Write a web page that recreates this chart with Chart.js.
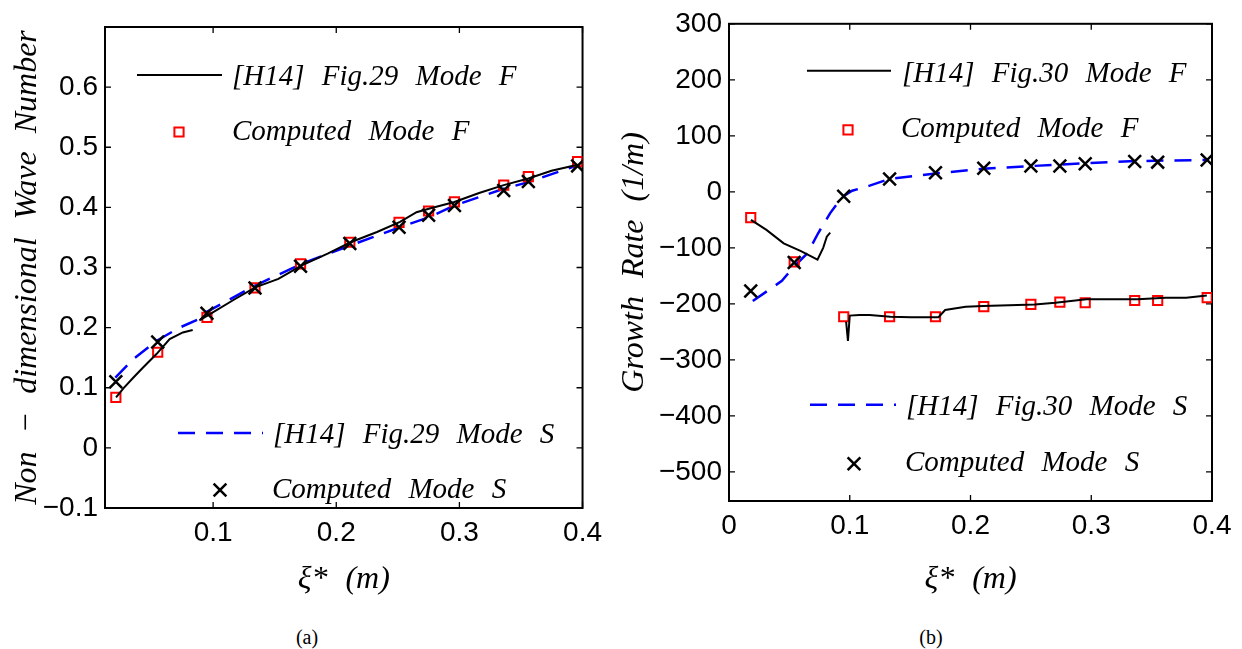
<!DOCTYPE html>
<html>
<head>
<meta charset="utf-8">
<script src="https://cdn.jsdelivr.net/npm/chart.js@4.4.1/dist/chart.umd.min.js"></script>
<style>
  html, body { margin: 0; padding: 0; background: #ffffff; }
  body { width: 1242px; height: 649px; position: relative; overflow: hidden; }
  canvas { position: absolute; top: 0; }
  #waveChart { left: 0; }
  #growthChart { left: 610px; }
  .caption {
    position: absolute; top: 637px; line-height: 1;
    transform: translate(-50%, -50%);
    font: 20px "Liberation Serif", serif; color: #000;
  }
</style>
</head>
<body>
<canvas id="waveChart" width="610" height="600"></canvas>
<canvas id="growthChart" width="632" height="600"></canvas>
<div class="caption" style="left:307px">(a)</div>
<div class="caption" style="left:931px">(b)</div>
<script>
/* Fig. (a) wave number and (b) growth rate vs xi* - [H14] curves and computed modes */

// ---- data, panel (a) ----
const xiA = [0.021, 0.055, 0.095, 0.134, 0.171, 0.211, 0.251, 0.275, 0.296, 0.336, 0.356, 0.396];
const computedFA = [0.084, 0.159, 0.217, 0.266, 0.306, 0.342, 0.375, 0.394, 0.409, 0.437, 0.451, 0.476];
const computedSA = [0.110, 0.176, 0.224, 0.266, 0.302, 0.340, 0.367, 0.387, 0.403, 0.428, 0.443, 0.469];

const fig29F1X = [0.0212, 0.0273, 0.0353, 0.0433, 0.054, 0.0647, 0.0754, 0.0834];
const fig29F1Y = [0.084, 0.0995, 0.117, 0.134, 0.156, 0.181, 0.192, 0.196];
const fig29F2X = [0.0888, 0.0954, 0.1182, 0.1342, 0.153, 0.1716, 0.193, 0.2117, 0.2331, 0.2518,
                  0.2652, 0.2759, 0.2959, 0.316, 0.336, 0.356, 0.3748, 0.3961];
const fig29F2Y = [0.212, 0.220, 0.248, 0.267, 0.281, 0.303, 0.323, 0.342, 0.359, 0.376,
                  0.392, 0.398, 0.409, 0.424, 0.437, 0.448, 0.461, 0.471];

const fig29SX = [0.0206, 0.0353, 0.054, 0.0727, 0.0888, 0.0941, 0.1342, 0.1716, 0.2117, 0.2518,
                 0.2759, 0.2959, 0.336, 0.356, 0.3961];
const fig29SY = [0.117, 0.148, 0.178, 0.200, 0.2145, 0.2255, 0.270, 0.306, 0.337, 0.367,
                 0.384, 0.403, 0.431, 0.442, 0.470];

const xTicksA = [0.1, 0.2, 0.3, 0.4];
const yTicksA = [-0.1, 0, 0.1, 0.2, 0.3, 0.4, 0.5, 0.6];

// ---- data, panel (b) ----
const xiB = [0.018, 0.054, 0.095, 0.133, 0.171, 0.211, 0.250, 0.274, 0.295, 0.336, 0.355, 0.396];
const computedFB = [-46, -125, -223, -223, -223, -205, -201, -197, -198, -194, -194, -189];
const computedSB = [-177, -126, -8, 23, 34, 42, 46, 46, 50, 54, 53, 57];

const fig30F1X = [0.0182, 0.031, 0.0453, 0.0596, 0.0733, 0.078, 0.081, 0.0838];
const fig30F1Y = [-50, -68, -92, -106, -121, -100, -80, -73];
const fig30F2X = [0.097, 0.0985, 0.100, 0.108, 0.1165, 0.1336, 0.1507, 0.165, 0.1735, 0.179,
                  0.196, 0.2105, 0.2248, 0.2532, 0.2703, 0.296, 0.3387, 0.3615, 0.3786, 0.3957];
const fig30F2Y = [-232, -266, -221, -220, -220, -223, -224, -224, -224, -211,
                  -205, -204, -203, -201, -198, -192, -192, -189, -189, -185];

const fig30SX = [0.0197, 0.0438, 0.054, 0.0652, 0.0738, 0.0838, 0.0938, 0.102, 0.1165, 0.133,
                 0.1675, 0.2103, 0.25, 0.2957, 0.338, 0.3974];
const fig30SY = [-195, -159, -133, -109, -74, -38, -9, 2, 11, 23, 32, 41, 46, 51, 55, 57];

const xTicksB = [0, 0.1, 0.2, 0.3, 0.4];
const yTicksB = [-500, -400, -300, -200, -100, 0, 100, 200, 300];

// ---- helpers ----
Chart.defaults.font.family = "'Liberation Sans', Arial, sans-serif";
Chart.defaults.font.size = 28;
Chart.defaults.color = '#000000';

const TITLE_FONT = { family: "'Liberation Serif', serif", style: 'italic', size: 32 };
const LEGEND_FONT = "italic 29px 'Liberation Serif', serif";
const TICK_LEN = 6;

function pts(xs, ys) {
    return xs.map((x, i) => ({ x: x, y: ys[i] }));
}
// two digitised pieces of one curve, with a break between them
function withGap(a, b) {
    return a.concat([{ x: a[a.length - 1].x, y: null }], b);
}
function fmt(v) {
    return (v < 0 ? '\u2212' : '') + Math.abs(v);
}

function markerPath(ctx, style, r, x, y) {
    ctx.beginPath();
    if (style === 'rect') {
        const s = Math.SQRT1_2 * r;
        ctx.rect(x - s, y - s, 2 * s, 2 * s);
    } else {
        const d = Math.SQRT1_2 * r;
        ctx.moveTo(x - d, y - d); ctx.lineTo(x + d, y + d);
        ctx.moveTo(x - d, y + d); ctx.lineTo(x + d, y - d);
    }
    ctx.stroke();
}

// box, inward ticks on all four sides and the in-plot legend
const matlabAxes = {
    id: 'matlabAxes',
    beforeDraw(chart) {
        chart.ctx.wordSpacing = '10px';
    },
    beforeDatasetsDraw(chart) {
        const { ctx, chartArea: a, scales } = chart;
        ctx.save();
        ctx.strokeStyle = '#000000';
        ctx.lineWidth = 1.3;
        ctx.beginPath();
        scales.x.ticks.forEach(t => {
            const px = scales.x.getPixelForValue(t.value);
            ctx.moveTo(px, a.bottom); ctx.lineTo(px, a.bottom - TICK_LEN);
            ctx.moveTo(px, a.top); ctx.lineTo(px, a.top + TICK_LEN);
        });
        scales.y.ticks.forEach(t => {
            const py = scales.y.getPixelForValue(t.value);
            ctx.moveTo(a.left, py); ctx.lineTo(a.left + TICK_LEN, py);
            ctx.moveTo(a.right, py); ctx.lineTo(a.right - TICK_LEN, py);
        });
        ctx.stroke();
        ctx.lineWidth = 2;
        ctx.strokeRect(a.left, a.top, a.right - a.left, a.bottom - a.top);
        ctx.restore();
    },
    afterDatasetsDraw(chart, args, opts) {
        const { ctx, chartArea: a } = chart;
        ctx.save();
        ctx.font = LEGEND_FONT;
        ctx.textBaseline = 'middle';
        ctx.fillStyle = '#000000';
        (opts.entries || []).forEach(e => {
            const ds = chart.data.datasets[e.ds];
            ctx.strokeStyle = ds.borderColor;
            if (ds.showLine) {
                ctx.lineWidth = ds.borderWidth;
                ctx.setLineDash(ds.borderDash || []);
                ctx.beginPath();
                ctx.moveTo(a.left + e.x0, a.top + e.y);
                ctx.lineTo(a.left + e.x1, a.top + e.y);
                ctx.stroke();
                ctx.setLineDash([]);
            } else {
                ctx.lineWidth = ds.pointBorderWidth;
                markerPath(ctx, ds.pointStyle, ds.pointRadius, a.left + e.x0, a.top + e.y);
            }
            ctx.fillText(ds.label, a.left + e.tx, a.top + e.ty);
        });
        ctx.restore();
    }
};
Chart.register(matlabAxes);

function lineSet(label, data, color, width, dash, order) {
    return {
        label: label, data: data, showLine: true, spanGaps: false,
        borderColor: color, borderWidth: width, borderDash: dash,
        pointRadius: 0, order: order
    };
}
function markerSet(label, data, color, style, radius, width, order) {
    return {
        label: label, data: data, showLine: false,
        borderColor: color, pointBorderColor: color, pointBackgroundColor: 'rgba(0,0,0,0)',
        pointStyle: style, pointRadius: radius, pointBorderWidth: width, order: order
    };
}

function makePanel(id, cfg) {
    const canvas = document.getElementById(id);
    const W = canvas.width, H = canvas.height, area = cfg.area;
    return new Chart(canvas, {
        type: 'scatter',
        data: { datasets: cfg.datasets },
        options: {
            responsive: false,
            animation: false,
            devicePixelRatio: 1,
            events: [],
            layout: { padding: { left: 0, top: area.top, right: W - area.right, bottom: 0 } },
            plugins: {
                legend: { display: false },
                tooltip: { enabled: false },
                matlabAxes: { entries: cfg.legend }
            },
            scales: {
                x: {
                    type: 'linear', position: 'bottom',
                    min: cfg.xMin, max: cfg.xMax,
                    grid: { display: false, drawTicks: false },
                    border: { display: false },
                    ticks: { padding: 8, maxRotation: 0, autoSkip: false, callback: fmt },
                    afterBuildTicks: s => { s.ticks = cfg.xTicks.map(v => ({ value: v })); },
                    afterFit: s => { s.height = H - area.bottom; },
                    title: { display: true, text: 'ξ* (m)', color: '#000000', font: TITLE_FONT,
                             padding: { top: 0, bottom: 1 } }
                },
                y: {
                    type: 'linear', position: 'left',
                    min: cfg.yMin, max: cfg.yMax,
                    grid: { display: false, drawTicks: false },
                    border: { display: false },
                    ticks: { padding: 7, autoSkip: false, callback: fmt },
                    afterBuildTicks: s => { s.ticks = cfg.yTicks.map(v => ({ value: v })); },
                    afterFit: s => { s.width = area.left; },
                    title: { display: true, text: cfg.yTitle, color: '#000000', font: TITLE_FONT,
                             padding: { top: cfg.yTitlePad, bottom: 0 } }
                }
            }
        }
    });
}

function initCharts() {
    // (a) non-dimensional wave number
    makePanel('waveChart', {
        area: { left: 105, top: 27, right: 588, bottom: 508 },
        xMin: 0.0122, xMax: 0.4, xTicks: xTicksA,
        yMin: -0.1, yMax: 0.7, yTicks: yTicksA,
        yTitle: 'Non − dimensional Wave Number', yTitlePad: 8,
        datasets: [
            lineSet('[H14] Fig.29 Mode F', withGap(pts(fig29F1X, fig29F1Y), pts(fig29F2X, fig29F2Y)),
                    '#000000', 2, [], 1),
            markerSet('Computed Mode F', pts(xiA, computedFA), '#ff0000', 'rect', 6.5, 2, 2),
            lineSet('[H14] Fig.29 Mode S', pts(fig29SX, fig29SY), '#0000ff', 2.5, [17, 11], 3),
            markerSet('Computed Mode S', pts(xiA, computedSA), '#000000', 'crossRot', 9, 2.5, 0)
        ],
        legend: [
            { ds: 0, x0: 32, x1: 117, y: 48, tx: 127, ty: 50 },
            { ds: 1, x0: 74, y: 105, tx: 127, ty: 105 },
            { ds: 2, x0: 73, x1: 158, y: 406, tx: 168, ty: 408 },
            { ds: 3, x0: 115, y: 463, tx: 167, ty: 463 }
        ]
    });

    // (b) growth rate
    makePanel('growthChart', {
        area: { left: 119, top: 19, right: 602, bottom: 501 },
        xMin: 0, xMax: 0.4, xTicks: xTicksB,
        yMin: -552, yMax: 300, yTicks: yTicksB,
        yTitle: 'Growth Rate (1/m)', yTitlePad: 5,
        datasets: [
            lineSet('[H14] Fig.30 Mode F', withGap(pts(fig30F1X, fig30F1Y), pts(fig30F2X, fig30F2Y)),
                    '#000000', 2, [], 1),
            markerSet('Computed Mode F', pts(xiB, computedFB), '#ff0000', 'rect', 6.5, 2, 2),
            lineSet('[H14] Fig.30 Mode S', pts(fig30SX, fig30SY), '#0000ff', 2.5, [17, 11], 3),
            markerSet('Computed Mode S', pts(xiB, computedSB), '#000000', 'crossRot', 9, 2.5, 0)
        ],
        legend: [
            { ds: 0, x0: 78, x1: 162, y: 47, tx: 173, ty: 51 },
            { ds: 1, x0: 119, y: 106, tx: 172, ty: 106 },
            { ds: 2, x0: 81, x1: 167, y: 381, tx: 177, ty: 384 },
            { ds: 3, x0: 125, y: 440, tx: 176, ty: 440 }
        ]
    });
}

if (document.readyState === 'loading') {
    document.addEventListener('DOMContentLoaded', initCharts);
} else {
    initCharts();
}
</script>
</body>
</html>
